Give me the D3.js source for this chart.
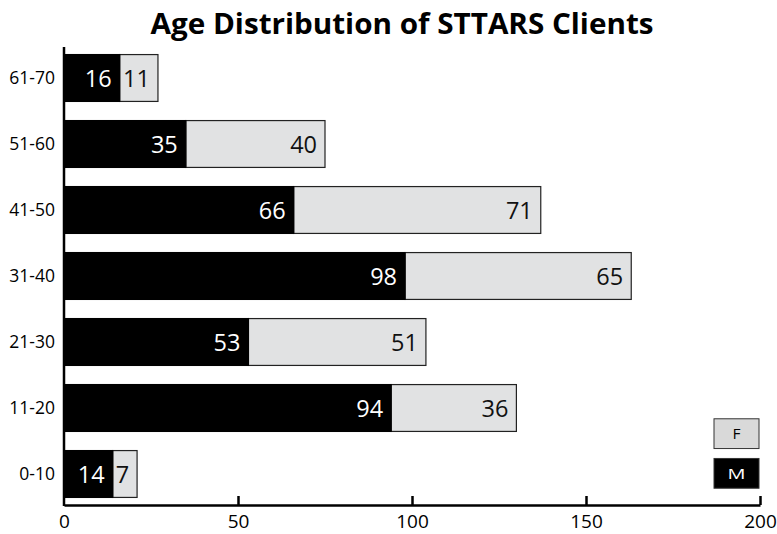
<!DOCTYPE html>
<html><head><meta charset="utf-8">
<script src="https://cdn.jsdelivr.net/npm/d3@7"></script>
<style>body{margin:0;background:#fff;overflow:hidden}svg{display:block}text{font-family:"Open Sans",sans-serif}</style>
</head><body>
<script>
const categories = ["61-70","51-60","41-50","31-40","21-30","11-20","0-10"];
const male = [16,35,66,98,53,94,14];
const female = [11,40,71,65,51,36,7];
const xTicks = [0,50,100,150,200];
const legendKeys = ["F","M"];
const title = "Age Distribution of STTARS Clients";

const W=777,H=534;
const svg=d3.select("body").append("svg").attr("width",W).attr("height",H);
const x=d3.scaleLinear().domain([0,200]).range([64,760]);
const y=d3.scaleBand().domain(categories).range([45,507]).paddingInner(0.29).paddingOuter(0.145);

svg.append("text").attr("x",402).attr("y",34).attr("text-anchor","middle")
  .attr("font-size",29).attr("font-weight","bold").attr("textLength",503).attr("lengthAdjust","spacingAndGlyphs").text(title);

const rows=categories.map((c,i)=>({c,m:male[i],f:female[i]}));
const g=svg.append("g");
g.selectAll("rect.f").data(rows).join("rect").attr("class","f")
  .attr("x",d=>x(d.m)).attr("y",d=>y(d.c)).attr("width",d=>x(d.m+d.f)-x(d.m)).attr("height",y.bandwidth())
  .attr("fill","#e1e2e3").attr("stroke","#222").attr("stroke-width",1.2);
g.selectAll("rect.m").data(rows).join("rect").attr("class","m")
  .attr("x",x(0)).attr("y",d=>y(d.c)).attr("width",d=>x(d.m)-x(0)).attr("height",y.bandwidth())
  .attr("fill","#000").attr("stroke","#000").attr("stroke-width",1.2);
g.selectAll("text.ml").data(rows).join("text").attr("class","ml")
  .attr("x",d=>x(d.m)-8).attr("y",d=>y(d.c)+y.bandwidth()/2+8.5).attr("text-anchor","end")
  .attr("font-size",23.5).attr("fill","#fff").text(d=>d.m);
g.selectAll("text.fl").data(rows).join("text").attr("class","fl")
  .attr("x",d=>x(d.m+d.f)-8).attr("y",d=>y(d.c)+y.bandwidth()/2+8.5).attr("text-anchor","end")
  .attr("font-size",23.5).attr("fill","#111").text(d=>d.f);

// axes
const xa=svg.append("g").attr("transform","translate(0,505)")
  .call(d3.axisBottom(x).tickValues(xTicks).tickSize(-9).tickPadding(10).tickSizeOuter(0));
xa.select(".domain").attr("stroke","#000").attr("stroke-width",2.5);
xa.selectAll(".tick line").attr("stroke","#000").attr("stroke-width",2.5);
xa.selectAll(".tick").filter(d=>d===0).select("line").remove();
xa.selectAll(".tick text").attr("font-size",19).attr("font-family","Open Sans, sans-serif").attr("fill","#000");

const ya=svg.append("g").attr("transform","translate(64,0)")
  .call(d3.axisLeft(y).tickSize(0).tickPadding(9));
ya.select(".domain").remove();
ya.append("line").attr("x1",0).attr("x2",0).attr("y1",47).attr("y2",506).attr("stroke","#000").attr("stroke-width",2.5);
ya.selectAll(".tick text").attr("font-size",17.5).attr("font-family","Open Sans, sans-serif").attr("fill","#000");

// legend
const legFill={F:"#d9d9d9",M:"#000"}, legCol={F:"#000",M:"#fff"}, legW={F:8,M:18};
const ly=d3.scaleBand().domain(legendKeys).range([416,491]).paddingInner(0.25).paddingOuter(0.07);
const lg=svg.append("g");
lg.selectAll("rect").data(legendKeys).join("rect").attr("x",714).attr("y",d=>ly(d)).attr("width",45).attr("height",ly.bandwidth())
  .attr("fill",d=>legFill[d]).attr("stroke","#333").attr("stroke-width",1);
lg.selectAll("text").data(legendKeys).join("text").attr("x",d=>736.5-legW[d]/2).attr("y",d=>ly(d)+ly.bandwidth()/2+5.5)
  .attr("font-size",14.5).attr("font-family","Liberation Sans, Arial, sans-serif")
  .attr("textLength",d=>legW[d]).attr("lengthAdjust","spacingAndGlyphs").attr("fill",d=>legCol[d]).text(d=>d);
</script>
</body></html>
